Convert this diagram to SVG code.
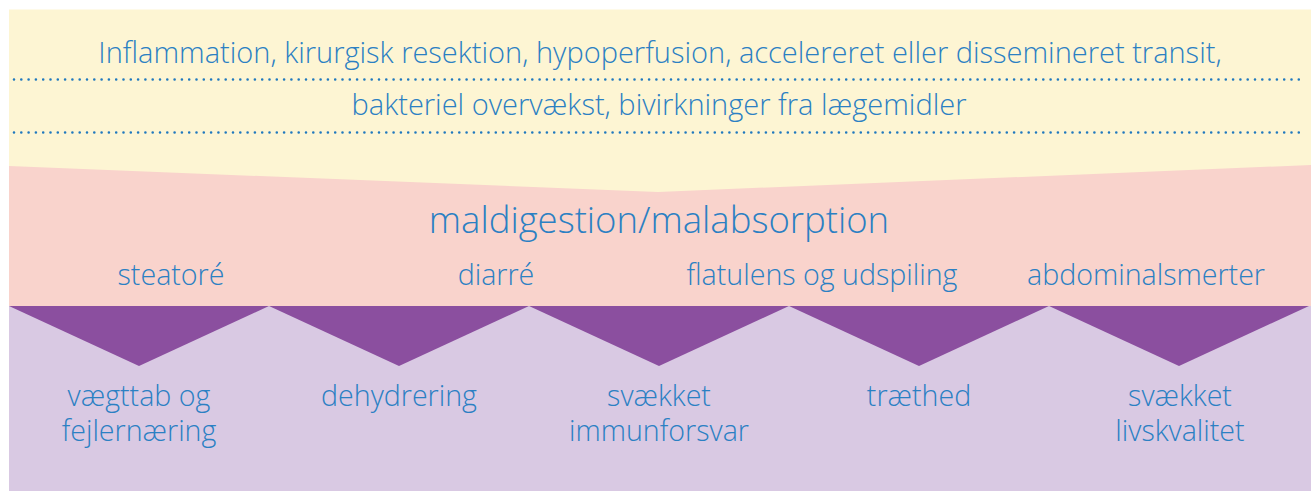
<svg xmlns="http://www.w3.org/2000/svg" width="1311" height="491" viewBox="0 0 1311 491">
<style>
text{font-family:"Open Sans","Liberation Sans",sans-serif;font-weight:300;fill:#2b80c3;text-anchor:middle}
.top{font-size:29px}
.title{font-size:36.5px}
.lab{font-size:28.6px}
.dots{stroke:#1f78be;stroke-width:2.6;stroke-linecap:round;stroke-dasharray:0 7.3;fill:none}
.tri{fill:#8b4f9f}
</style>
<rect x="0" y="0" width="1311" height="491" fill="#ffffff"/>
<g id="causes">
<rect x="9" y="9.5" width="1302" height="190" fill="#fdf5d3"/>
<path class="dots" d="M14 79.5H1306"/>
<path class="dots" d="M14 132.5H1306"/>
<text class="top" x="660" y="63">Inflammation, kirurgisk resektion, hypoperfusion, accelereret eller dissemineret transit,</text>
<text class="top" x="659" y="115">bakteriel overvækst, bivirkninger fra lægemidler</text>
</g>
<g id="malabsorption">
<polygon points="9,166 658,192 1311,165 1311,306 9,306" fill="#f9d3cc"/>
<text class="title" x="659" y="233">maldigestion/malabsorption</text>
<text class="lab" x="171" y="285">steatoré</text>
<text class="lab" x="496" y="285">diarré</text>
<text class="lab" x="822" y="285">flatulens og udspiling</text>
<text class="lab" x="1146" y="285">abdominalsmerter</text>
</g>
<g id="consequences">
<rect x="9" y="306" width="1302" height="185" fill="#d9c9e3"/>
</g>
<g id="connectors">
<polygon class="tri" points="9,306 269,306 139,366"/>
<polygon class="tri" points="269,306 529,306 399,366"/>
<polygon class="tri" points="529,306 789,306 659,366"/>
<polygon class="tri" points="789,306 1049,306 919,366"/>
<polygon class="tri" points="1049,306 1309,306 1179,366"/>
</g>
<g id="n1"><text class="lab" x="139" y="406"><tspan x="139">vægttab og</tspan><tspan x="139" dy="35">fejlernæring</tspan></text></g>
<g id="n2"><text class="lab" x="399" y="406">dehydrering</text></g>
<g id="n3"><text class="lab" x="659" y="406"><tspan x="659">svækket</tspan><tspan x="659" dy="35">immunforsvar</tspan></text></g>
<g id="n4"><text class="lab" x="919" y="406">træthed</text></g>
<g id="n5"><text class="lab" x="1180" y="406"><tspan x="1180">svækket</tspan><tspan x="1180" dy="35">livskvalitet</tspan></text></g>
</svg>
